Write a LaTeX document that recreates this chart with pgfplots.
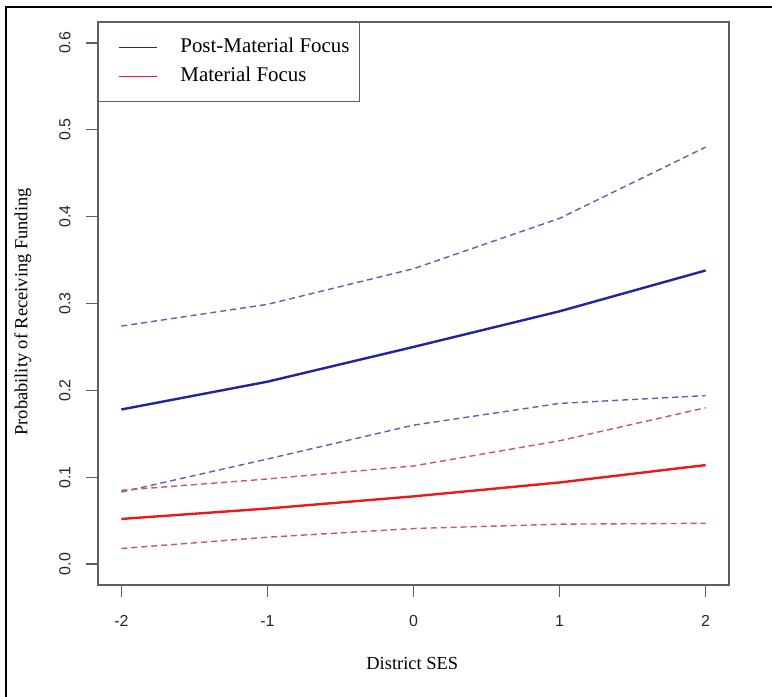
\documentclass[border=0pt]{standalone}
\usepackage{fontspec}
\setmainfont{Liberation Serif}
\newfontfamily\ticksans{Liberation Sans}
\usepackage{pgfplots}
\pgfplotsset{compat=1.18}
\definecolor{axgray}{RGB}{95,95,95}
\definecolor{bsolid}{RGB}{35,35,160}
\definecolor{bdash}{RGB}{95,95,175}
\definecolor{rsolid}{RGB}{235,25,30}
\definecolor{rdash}{RGB}{205,85,95}

\begin{document}
\begin{tikzpicture}[x=1bp,y=1bp]
\useasboundingbox (0,0) rectangle (772,697);
\draw[line width=2bp] (6,0) -- (6,690) -- (772,690);
\begin{axis}[
  at={(98bp,112bp)}, anchor=south west,
  scale only axis, width=631bp, height=563bp,
  xmin=-2.16, xmax=2.16, ymin=-0.024, ymax=0.624,
  axis line style={draw=axgray, line width=1.5bp},
  xtick={-2,-1,0,1,2}, xticklabels={-2,-1,0,1,2},
  ytick={0,0.1,0.2,0.3,0.4,0.5,0.6},
  yticklabels={0.0,0.1,0.2,0.3,0.4,0.5,0.6},
  tick align=outside, tick pos=left, major tick length=12bp,
  tick style={draw=axgray, line width=1.5bp},
  ticklabel style={font=\ticksans\fontsize{16}{18}\selectfont, text=black!85},
  xticklabel style={anchor=center, yshift=-24bp},
  yticklabel style={xshift=-21bp, rotate=90, anchor=center},
  xlabel={District SES}, ylabel={Probability of Receiving Funding},
  label style={font=\fontsize{18.5}{20}\selectfont},
  xlabel style={at={(axis description cs:0.498,0)}, anchor=center, yshift=-78bp},
  ylabel style={at={(axis description cs:-0.119,0.485)}, anchor=center},
  legend image code/.code={\path (0bp,0bp); \draw[#1, line width=1.2bp] (9bp,0bp) -- (47bp,0bp);},
  legend style={at={(axis description cs:0,1)}, anchor=north west,
    draw=axgray, line width=1.2bp, fill=white,
    inner xsep=10bp, inner ysep=15bp, row sep=9bp,
    font=\fontsize{21}{23}\selectfont,
    nodes={inner sep=0pt, text height=15bp, text depth=5bp},
    /tikz/every odd column/.append style={column sep=23bp}},
  legend cell align=left,
  clip=false
]
% Post-Material Focus: estimate and interval
\addplot[color=bsolid, line width=2.4bp]
  coordinates {(-2,0.178)(-1,0.210)(0,0.250)(1,0.291)(2,0.338)};
\addlegendentry{Post-Material Focus}
\addplot[color=rsolid, line width=2.4bp]
  coordinates {(-2,0.052)(-1,0.064)(0,0.078)(1,0.094)(2,0.114)};
\addlegendentry{Material Focus}

\addplot[forget plot, color=bdash, line width=1.4bp, dash pattern=on 6bp off 4bp]
  coordinates {(-2,0.274)(-1,0.299)(0,0.340)(1,0.398)(2,0.480)};
\addplot[forget plot, color=bdash, line width=1.4bp, dash pattern=on 6bp off 4bp]
  coordinates {(-2,0.083)(-1,0.121)(0,0.160)(1,0.185)(2,0.194)};

% Material Focus interval
\addplot[forget plot, color=rdash, line width=1.4bp, dash pattern=on 6bp off 4bp]
  coordinates {(-2,0.085)(-1,0.098)(0,0.113)(1,0.142)(2,0.180)};
\addplot[forget plot, color=rdash, line width=1.4bp, dash pattern=on 6bp off 4bp]
  coordinates {(-2,0.018)(-1,0.031)(0,0.041)(1,0.046)(2,0.047)};
\end{axis}
\end{tikzpicture}
\end{document}
